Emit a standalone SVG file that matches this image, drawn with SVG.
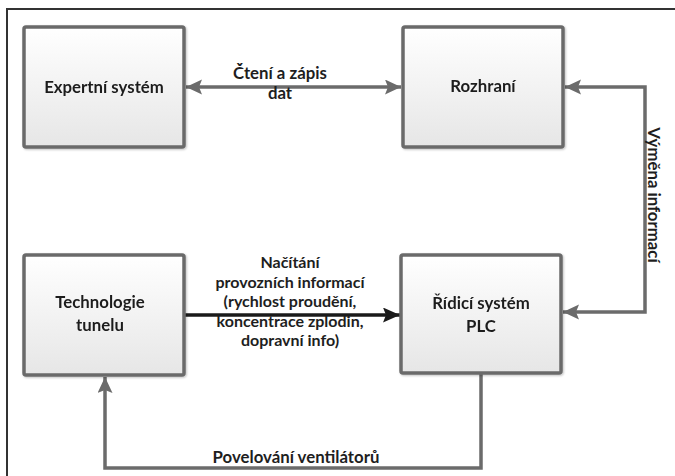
<svg xmlns="http://www.w3.org/2000/svg" width="675" height="476" viewBox="0 0 675 476">
<style>
.box{fill:url(#g);stroke:#6b6b6b;stroke-width:3.5}
.t{font-family:Lato,"Liberation Sans",sans-serif;font-weight:bold;font-size:16.8px;fill:#1e1e1e;text-anchor:middle}
.s{font-size:16px}
.c{fill:none;stroke:#6b6b6b;stroke-width:3.5}
</style>
<defs>
<linearGradient id="g" x1="0" y1="0" x2="0" y2="1">
<stop offset="0" stop-color="#ffffff"/>
<stop offset="1" stop-color="#e6e6e6"/>
</linearGradient>
<filter id="sh" x="-10%" y="-10%" width="130%" height="130%">
<feGaussianBlur in="SourceAlpha" stdDeviation="1.2"/>
<feOffset dx="1" dy="1"/>
<feComponentTransfer><feFuncA type="linear" slope="0.25"/></feComponentTransfer>
<feMerge><feMergeNode/><feMergeNode in="SourceGraphic"/></feMerge>
</filter>
<marker id="ag" markerUnits="userSpaceOnUse" markerWidth="18" markerHeight="16" refX="16" refY="7.5" orient="auto-start-reverse" viewBox="0 0 18 16">
<path d="M0,0 L16,7.5 L0,15 L3,7.5 z" fill="#6b6b6b"/>
</marker>
<marker id="ab" markerUnits="userSpaceOnUse" markerWidth="18" markerHeight="16" refX="17" refY="7.5" orient="auto" viewBox="0 0 18 16">
<path d="M0,0 L17,7.5 L0,15 L3,7.5 z" fill="#1a1a1a"/>
</marker>
</defs>
<rect width="675" height="476" fill="#fff"/>
<g id="frame">
<path d="M7,476 V9 H675" fill="none" stroke="#333" stroke-width="2"/>
</g>
<g id="connectors">
<line class="c" x1="186" y1="87" x2="401" y2="87" marker-start="url(#ag)" marker-end="url(#ag)"/>
<polyline class="c" points="565,87 645,87 645,312 563,312" marker-start="url(#ag)" marker-end="url(#ag)"/>
<line x1="184" y1="315" x2="400" y2="315" stroke="#1a1a1a" stroke-width="3.5" marker-end="url(#ab)"/>
<polyline class="c" points="481,373 481,468 105,468 105,377" marker-end="url(#ag)"/>
<text class="t" x="280" y="79">Čtení a zápis</text>
<text class="t" x="280" y="99">dat</text>
<text class="t" transform="translate(648,195) rotate(90)">Výměna informací</text>
<text class="t s" x="290" y="268">Načítání</text>
<text class="t s" x="290" y="287.5">provozních informací</text>
<text class="t s" x="290" y="307">(rychlost proudění,</text>
<text class="t s" x="290" y="326.5">koncentrace zplodin,</text>
<text class="t s" x="290" y="346">dopravní info)</text>
<text class="t" x="296" y="463">Povelování ventilátorů</text>
</g>
<g id="expert" filter="url(#sh)">
<rect class="box" x="24" y="27" width="160" height="120" rx="2"/>
<text class="t" x="104" y="93">Expertní systém</text>
</g>
<g id="rozhrani" filter="url(#sh)">
<rect class="box" x="403" y="27" width="160" height="120" rx="2"/>
<text class="t" x="483" y="92">Rozhraní</text>
</g>
<g id="technologie" filter="url(#sh)">
<rect class="box" x="24" y="255" width="160" height="120" rx="2"/>
<text class="t" x="100" y="308">Technologie</text>
<text class="t" x="100" y="331">tunelu</text>
</g>
<g id="plc" filter="url(#sh)">
<rect class="box" x="401" y="255" width="160" height="118" rx="2"/>
<text class="t" x="481" y="309">Řídicí systém</text>
<text class="t" x="481" y="332">PLC</text>
</g>
</svg>
